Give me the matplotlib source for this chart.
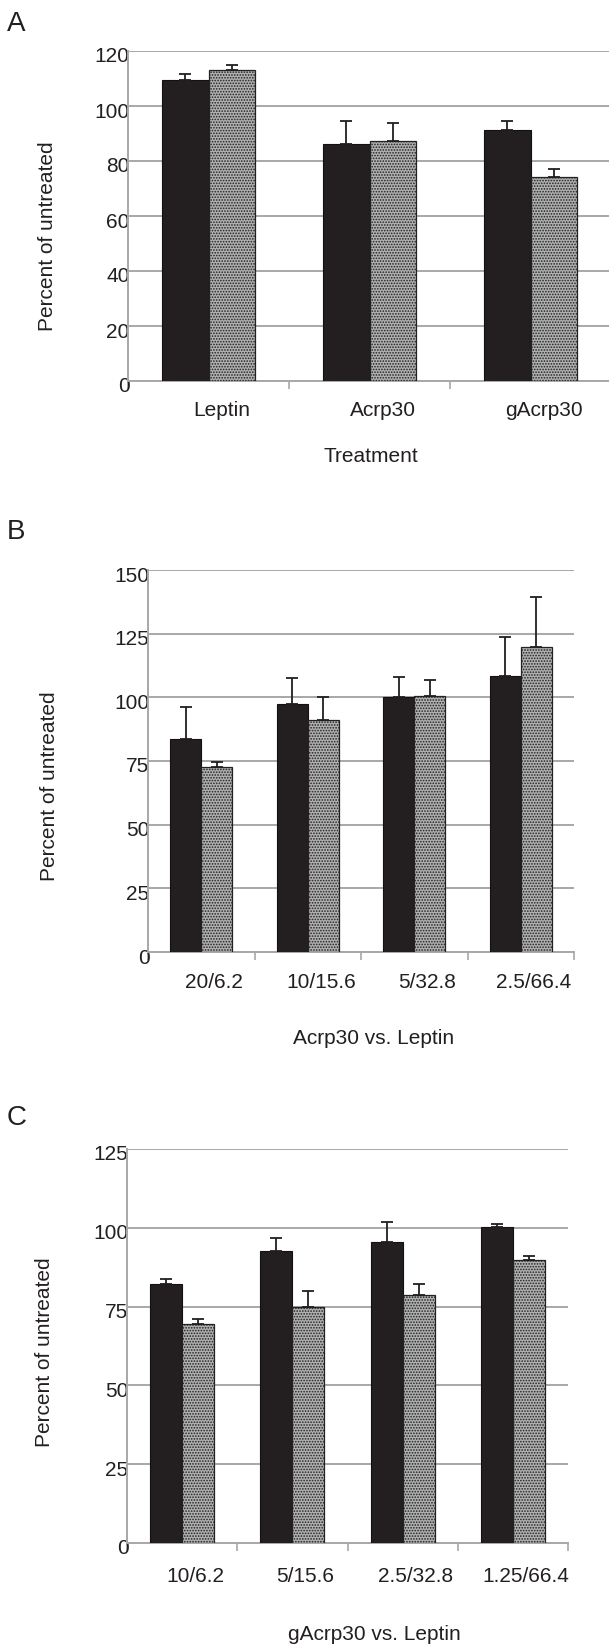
import matplotlib
matplotlib.use("Agg")
import matplotlib.pyplot as plt
import matplotlib.transforms as mtrans
import numpy as np

plt.rcParams['font.family'] = ['Liberation Sans', 'DejaVu Sans']
plt.rcParams['hatch.color'] = '#3a3a3a'
plt.rcParams['hatch.linewidth'] = 0.8

# ---- data ----
a_cats = ["Leptin", "Acrp30", "gAcrp30"]
a_black = [109.3, 86.1, 91.2]
a_black_err = [2.2, 8.5, 3.4]
a_gray = [113.2, 87.2, 74.2]
a_gray_err = [1.7, 6.7, 2.8]

b_cats = ["20/6.2", "10/15.6", "5/32.8", "2.5/66.4"]
b_black = [83.7, 97.4, 100.1, 108.5]
b_black_err = [12.7, 10.1, 7.8, 15.1]
b_gray = [72.6, 91.1, 100.5, 119.6]
b_gray_err = [2.0, 9.0, 6.3, 19.7]

c_cats = ["10/6.2", "5/15.6", "2.5/32.8", "1.25/66.4"]
c_black = [82.2, 92.7, 95.6, 100.3]
c_black_err = [1.7, 4.1, 6.1, 1.0]
c_gray = [69.4, 74.8, 78.7, 89.7]
c_gray_err = [1.7, 5.0, 3.4, 1.4]

W, H = 609, 1646
DPI = 100
fig = plt.figure(figsize=(W / DPI, H / DPI), dpi=DPI)

TXT = '#231f20'
GRID = '#a8a8a8'
FS = 15


def panel(box, cats, black, black_err, gray, gray_err, ymax, step,
          letter, letter_xy, ylab_xy, tick_y, xlab, xlab_y, lab_dx):
    left, top, right, bottom = box
    ax = fig.add_axes([left / W, 1 - bottom / H, (right - left) / W, (bottom - top) / H])
    n = len(cats)
    x = np.arange(n)
    w = 0.29
    ax.bar(x - w / 2, black, w, color='#231f20', edgecolor='#111111', linewidth=0.8, zorder=3)
    ax.bar(x + w / 2, gray, w, color='#b0b0b0', edgecolor='#222222', linewidth=0.9,
           hatch='......', zorder=3)
    ax.errorbar(x - w / 2, black, yerr=[np.zeros(n), black_err], fmt='none',
                ecolor=TXT, elinewidth=1.3, capsize=4.3, capthick=1.3, zorder=4)
    ax.errorbar(x + w / 2, gray, yerr=[np.zeros(n), gray_err], fmt='none',
                ecolor=TXT, elinewidth=1.3, capsize=4.3, capthick=1.3, zorder=4)

    ax.set_xlim(-0.5, n - 0.5)
    ax.set_ylim(0, ymax)
    ax.set_yticks(np.arange(0, ymax + 1, step))
    ax.yaxis.grid(True, color=GRID, linewidth=1.4, zorder=0)
    ax.set_axisbelow(True)
    for s in ['top', 'right']:
        ax.spines[s].set_visible(False)
    for s in ['left', 'bottom']:
        ax.spines[s].set_color(GRID)
        ax.spines[s].set_linewidth(1.4)
    ax.tick_params(axis='y', length=0, pad=-1, labelsize=FS, labelcolor=TXT)
    ax.set_xticks(np.arange(n + 1) - 0.5)
    ax.set_xticklabels([])
    ax.tick_params(axis='x', length=6, width=1.2, color=GRID, direction='out')
    for lab in ax.get_yticklabels():
        lab.set_transform(lab.get_transform() + mtrans.ScaledTranslation(0, -4 / DPI, fig.dpi_scale_trans))

    tr = mtrans.blended_transform_factory(ax.transData, fig.transFigure)
    off = mtrans.ScaledTranslation(lab_dx / DPI, 0, fig.dpi_scale_trans)
    for i, c in enumerate(cats):
        fig.text(i, 1 - tick_y / H, c, transform=tr + off, ha='center', va='center',
                 fontsize=FS, color=TXT)

    fig.text(xlab[1] / W, 1 - xlab_y / H, xlab[0], ha='center', va='center', fontsize=FS, color=TXT)
    fig.text(ylab_xy[0] / W, 1 - ylab_xy[1] / H, "Percent of untreated", rotation=90,
             ha='center', va='center', fontsize=FS, color=TXT)
    fig.text(letter_xy[0] / W, 1 - letter_xy[1] / H, letter, ha='left', va='center',
             fontsize=20, color=TXT)
    return ax


panel((128, 51, 611, 381), a_cats, a_black, a_black_err, a_gray, a_gray_err, 120, 20,
      "A", (7, 24), (48, 236), 410, ("Treatment", 371), 457, 13)
panel((148, 570, 574, 952), b_cats, b_black, b_black_err, b_gray, b_gray_err, 150, 25,
      "B", (7, 532), (50, 786), 983, ("Acrp30 vs. Leptin", 374), 1038, 13)
panel((127, 1149, 568, 1543), c_cats, c_black, c_black_err, c_gray, c_gray_err, 125, 25,
      "C", (7, 1118), (45, 1352), 1576, ("gAcrp30 vs. Leptin", 374), 1634, 13)

fig.savefig("out.png", dpi=DPI)
